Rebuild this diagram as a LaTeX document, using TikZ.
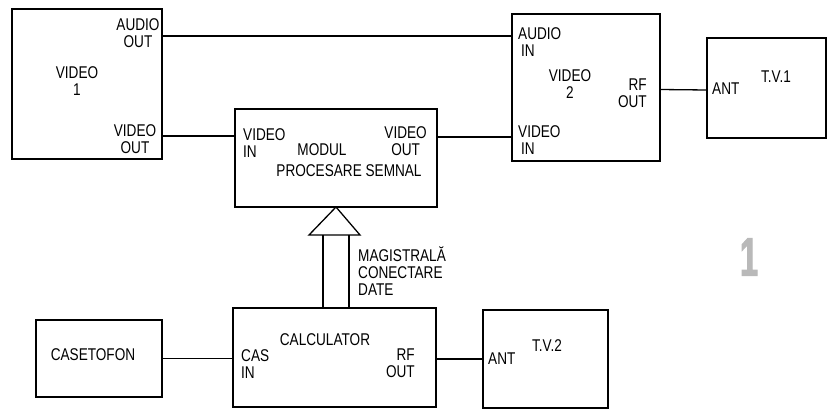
\documentclass[tikz,border=0pt]{standalone}
\usepackage{fontspec}
\setmainfont{Liberation Sans}[FakeStretch=0.8]
\newfontfamily\cifra{Liberation Sans Bold}[FakeStretch=0.6,FakeBold=2]

\begin{document}
\begin{tikzpicture}[x=1pt,y=-1pt,font=\fontsize{17}{17}\selectfont,
  bloc/.style={draw,line width=2.6pt,inner sep=0pt,outer sep=0pt},
  fir/.style={line width=1.3pt,line join=miter},
  txt/.style={inner sep=0pt,align=center},
  txtst/.style={inner sep=0pt,align=left,anchor=west},
  txtdr/.style={inner sep=0pt,align=center,anchor=east}]
\useasboundingbox (0,0) rectangle (828,410);
\node[bloc,minimum width=150pt,minimum height=150pt] (v1) at (87,84) {};
\node[bloc,minimum width=202pt,minimum height=98pt] (modul) at (336,158) {};
\node[bloc,minimum width=148pt,minimum height=147pt] (v2) at (586,87.5) {};
\node[bloc,minimum width=119pt,minimum height=100pt] (tv1) at (766.5,88) {};
\node[bloc,minimum width=126pt,minimum height=77pt] (cas) at (99,358.5) {};
\node[bloc,minimum width=203pt,minimum height=99pt] (calc) at (334.5,357.5) {};
\node[bloc,minimum width=125pt,minimum height=98pt] (tv2) at (545.5,359) {};
\node[txt] (v1ao) at (138,33) {AUDIO\\OUT}; \node[txt] (v1n) at (77,81) {VIDEO\\1}; \node[txt] (v1vo) at (135,139.5) {VIDEO\\OUT};
\node[txtst] (mvi) at (243,143) {VIDEO\\IN}; \node[txt] (mnume) at (322,150) {MODUL}; \node[txt] (mnume2) at (349,171) {PROCESARE SEMNAL};
\node[txtdr] (mvo) at (427,141.5) {VIDEO\\OUT};
\node[txtst] (v2ai) at (518,42) {AUDIO\\\hspace{3pt}IN}; \node[txt] (v2n) at (570,84) {VIDEO\\2};
\node[txtdr,align=right] (v2rf) at (647,93.5) {RF\\OUT}; \node[txtst] (v2vi) at (518,140) {VIDEO\\\hspace{3pt}IN};
\node[txtst] (tv1ant) at (712,89) {ANT}; \node[txt] (tv1n) at (776,77) {T.V.1};
\node[txt] (casn) at (93,355) {CASETOFON};
\node[txt] (calcn) at (325,340) {CALCULATOR}; \node[txtst] (calcin) at (241,364) {CAS\\IN}; \node[txtdr,align=right] (calcrf) at (415,363.5) {RF\\OUT};
\node[txtst] (tv2ant) at (488,359) {ANT}; \node[txt] (tv2n) at (547,346) {T.V.2};
\node[txtst] (magis) at (358,271) {MAGISTRALĂ\\CONECTARE\\DATE};
\node[txt,gray!55,font=\fontsize{54}{54}\selectfont\cifra] (fig) at (749,257) {1};
\draw[fir] ([yshift=-27pt]v1.north east) -- ([yshift=-22pt]v2.north west);
\draw[fir] ([yshift=-127pt]v1.north east) -- ([yshift=-27pt]modul.north west);
\draw[fir] ([yshift=-28pt]modul.north east) -- ([yshift=-123pt]v2.north west);
\draw[fir] ([yshift=-2pt]v2.east) -- ([yshift=-2pt]tv1.west);
\draw[fir] (cas.east) -- (cas.east -| calc.west);
\draw[fir] (calc.east |- tv2.west) -- (tv2.west);
\coordinate (bazst) at (309,235); \coordinate (bazdr) at (360,235);
\coordinate (st1) at (323,235); \coordinate (st2) at (349,235);
\draw[fir] (modul.south) -- (bazdr) -- (bazst) -- cycle;
\draw[fir] (st1) -- (st1 |- calc.north); \draw[fir] (st2) -- (st2 |- calc.north);
\end{tikzpicture}
\end{document}
